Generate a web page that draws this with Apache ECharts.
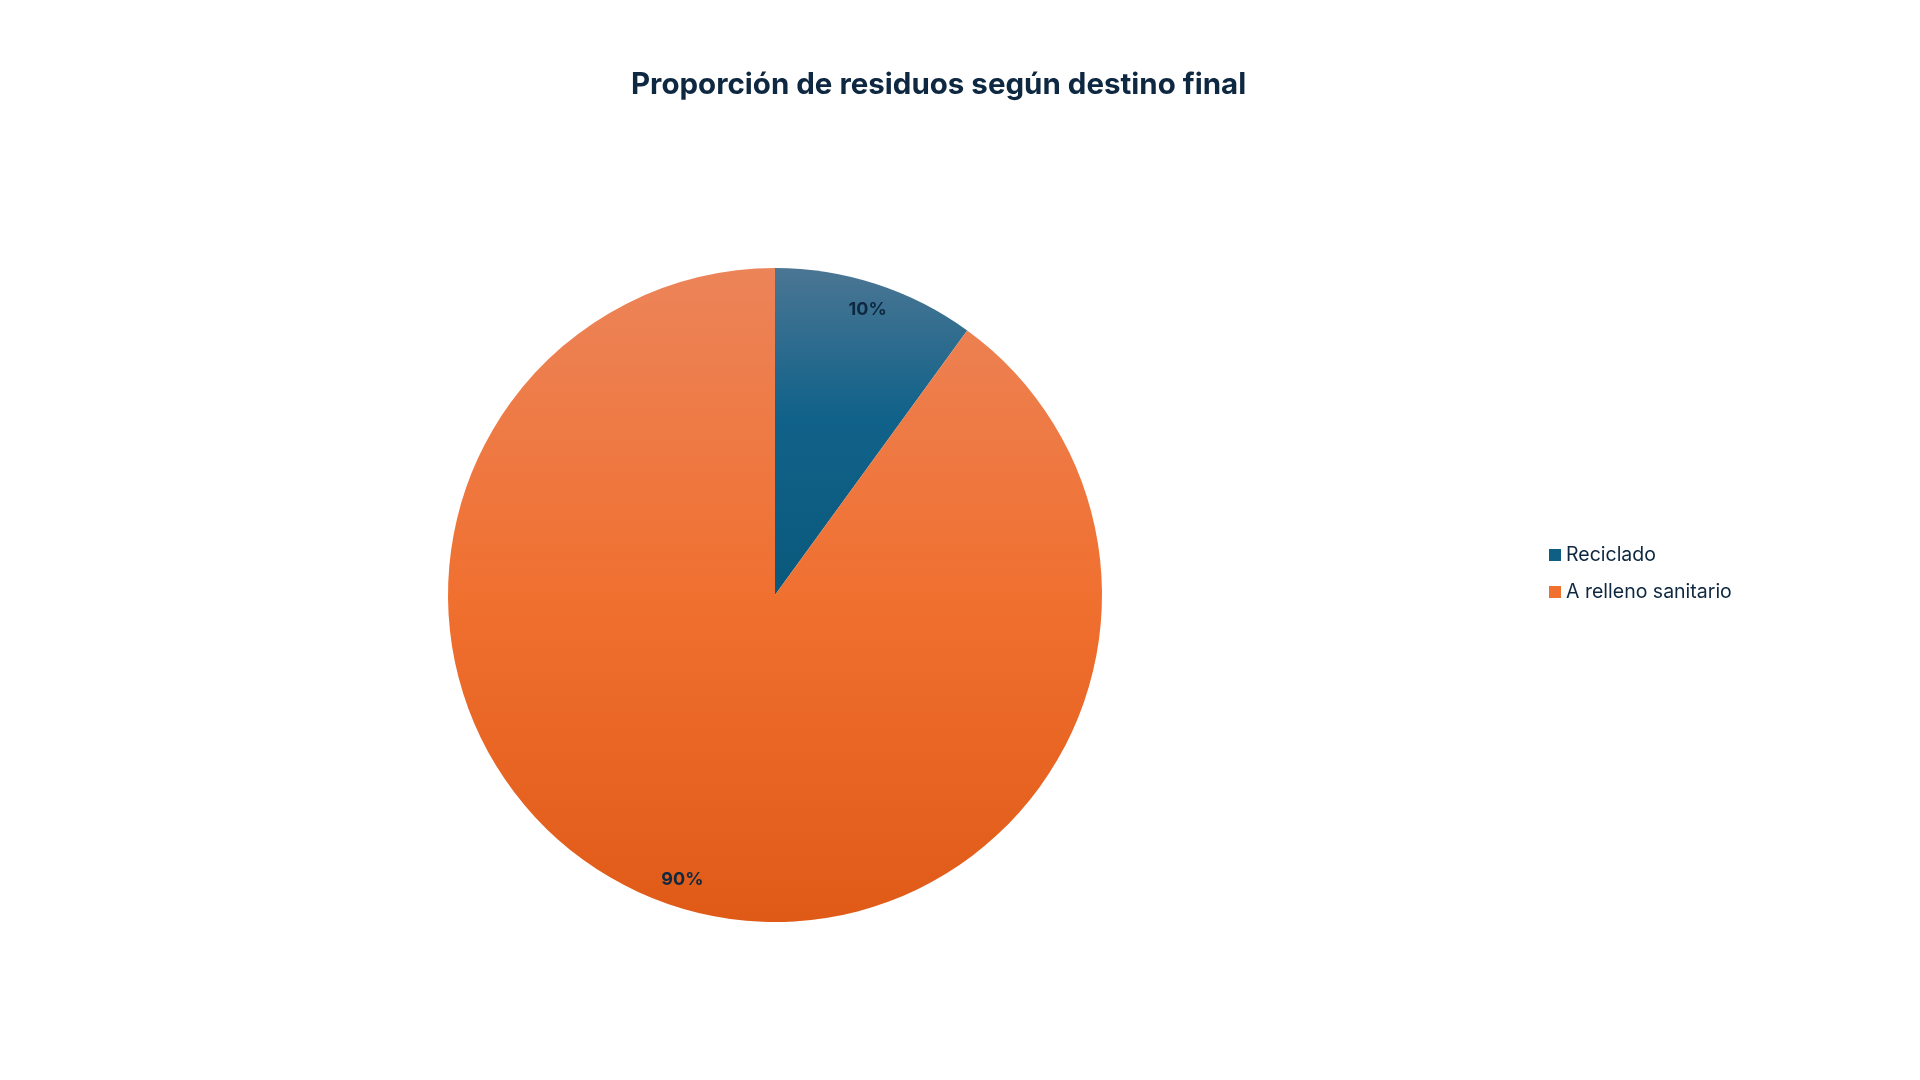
<!DOCTYPE html>
<html><head><meta charset="utf-8">
<script src="https://cdn.jsdelivr.net/npm/echarts@6/dist/echarts.min.js"></script>
<style>html,body{margin:0;padding:0;background:#fff}#c{width:1920px;height:1080px}</style>
</head><body><div id="c"></div>
<script>
const titleText = 'Proporción de residuos según destino final';
const categories = ['Reciclado', 'A relleno sanitario'];
const values = [10, 90];

const gradients = [
  new echarts.graphic.LinearGradient(0, 0, 0, 1, [
    {offset: 0, color: '#4b7693'}, {offset: 0.45, color: '#11628a'}, {offset: 1, color: '#0a597c'}
  ]),
  new echarts.graphic.LinearGradient(0, 0, 0, 1, [
    {offset: 0, color: '#ec8459'}, {offset: 0.5, color: '#f07030'}, {offset: 1, color: '#e05a17'}
  ])
];
const legendColors = ['#0f5f85', '#f07030'];
const CX = 775, CY = 595, R = 327;

const chart = echarts.init(document.getElementById('c'));
chart.setOption({
  backgroundColor: '#ffffff',
  animation: false,
  title: {
    text: titleText, left: 626, top: 65,
    textStyle: {fontFamily: 'Inter', fontWeight: 'bold', fontSize: 29.5, color: '#0e2841'}
  },
  legend: {
    orient: 'vertical', left: 1544, top: 540, itemGap: 17,
    itemWidth: 12, itemHeight: 12, icon: 'rect',
    textStyle: {fontFamily: 'Inter', fontSize: 19.5, color: '#0e2841'},
    data: categories.map((c, i) => ({name: c, itemStyle: {color: legendColors[i]}}))
  },
  series: [{
    type: 'pie',
    center: [CX, CY], radius: R,
    startAngle: 90, clockwise: true,
    label: {
      show: true, position: 'inside',
      formatter: p => p.value + '%',
      fontFamily: 'Inter', fontWeight: 'bold', fontSize: 18, color: '#0e2841'
    },
    labelLayout: function (p) {
      const r = p.labelRect;
      const lx = r.x + r.width / 2, ly = r.y + r.height / 2;
      const k = 0.8;
      return {dx: (lx - CX) * k, dy: (ly - CY) * k};
    },
    labelLine: {show: false},
    emphasis: {disabled: true},
    data: categories.map((c, i) => ({name: c, value: values[i], itemStyle: {color: gradients[i]}}))
  }]
});
</script></body></html>
